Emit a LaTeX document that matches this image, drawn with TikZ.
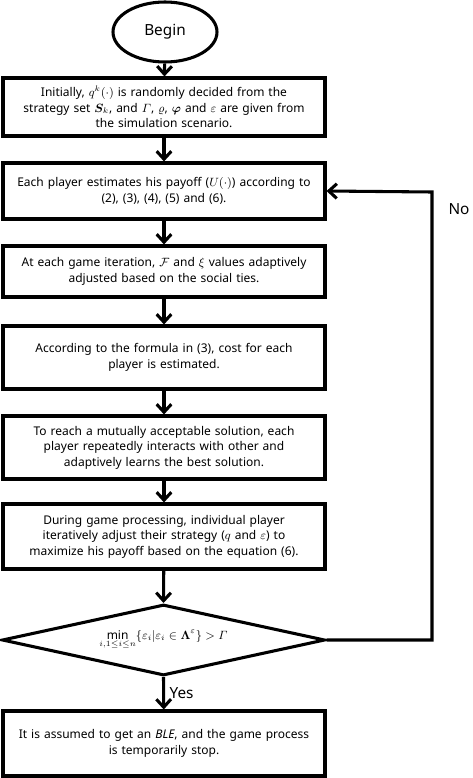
\documentclass[tikz,border=0pt]{standalone}
\usepackage{amsmath,amssymb,bm}
\usepackage{fontspec}
\setmainfont{Noto Sans}
\usetikzlibrary{arrows.meta,shapes.geometric,shadows}

\begin{document}
\begin{tikzpicture}[x=0.75pt, y=-0.75pt,
    every node/.style={font=\fontsize{9pt}{11.6pt}\selectfont},
    box/.style={draw, line width=2.3pt, fill=white, minimum width=241.5pt, text width=236pt,
      inner xsep=2.75pt, inner ysep=2pt, align=center,
      drop shadow={shadow xshift=0.8pt, shadow yshift=-0.8pt, fill=black!30}},
    flow/.style={line width=2.3pt, -{Straight Barb[length=6pt, width=11pt, line width=2.3pt]}},
    big/.style={font=\fontsize{11.5pt}{14pt}\selectfont}]
      \useasboundingbox (0,0) rectangle (472,778);
      \node[draw, line width=2.3pt, ellipse, minimum width=78pt, minimum height=45pt, inner sep=0pt, big] (begin) at (165,32) {Begin};
      \node[box, minimum height=43.5pt] (init) at (164,107) {Initially, $q^k(\cdot)$ is randomly decided from the\\ strategy set $\bm{S}_k$, and $\varGamma$, $\varrho$, $\bm{\varphi}$ and $\varepsilon$ are given from\\ the simulation scenario.};
      \node[box, minimum height=42pt] (payoff) at (164,191) {Each player estimates his payoff ($U(\cdot)$) according to\\ (2), (3), (4), (5) and (6).};
      \node[box, minimum height=38.25pt] (ties) at (164,271.5) {At each game iteration, $\mathcal{F}$ and $\xi$ values adaptively\\ adjusted based on the social ties.};
      \node[box, minimum height=47.25pt] (cost) at (164,357.5) {According to the formula in (3), cost for each\\ player is estimated.};
      \node[box, minimum height=47.25pt] (learn) at (164,447.5) {To reach a mutually acceptable solution, each\\ player repeatedly interacts with other and\\ adaptively learns the best solution.};
      \node[box, minimum height=48.75pt] (adjust) at (164,536.5) {During game processing, individual player\\ iteratively adjust their strategy ($q$ and $\varepsilon$) to\\ maximize his payoff based on the equation (6).};
      \node[draw, line width=2.3pt, diamond, aspect=4.55, minimum width=242.25pt, minimum height=53.25pt, inner sep=0pt] (check) at (163.5,640)
        {$\displaystyle\mathop{\text{\bfseries min}}\limits_{i,1\le i\le n}\{\varepsilon_i|\varepsilon_i\in\bm{\Lambda}^{\varepsilon}\}>\varGamma$};
      \node[box, minimum height=48.75pt] (stop) at (164,743.5) {It is assumed to get an \textit{BLE}, and the game process\\ is temporarily stop.};
      \coordinate (loopA) at (432,640);
      \coordinate (loopB) at (432,192);
      \draw[flow] (begin) -- (init);
      \draw[flow] (init) -- (payoff);
      \draw[flow] (payoff) -- (ties);
      \draw[flow] (ties) -- (cost);
      \draw[flow] (cost) -- (learn);
      \draw[flow] (learn) -- (adjust);
      \draw[flow] (adjust) -- (check.north);
      \draw[flow] (check.south) -- node[right, big] (yes) {Yes} (stop);
      \draw[flow] (check.east) -- (loopA) -- (loopB) -- (payoff.east);
      \node[big] (no) at (459,209) {No};
\end{tikzpicture}
\end{document}
